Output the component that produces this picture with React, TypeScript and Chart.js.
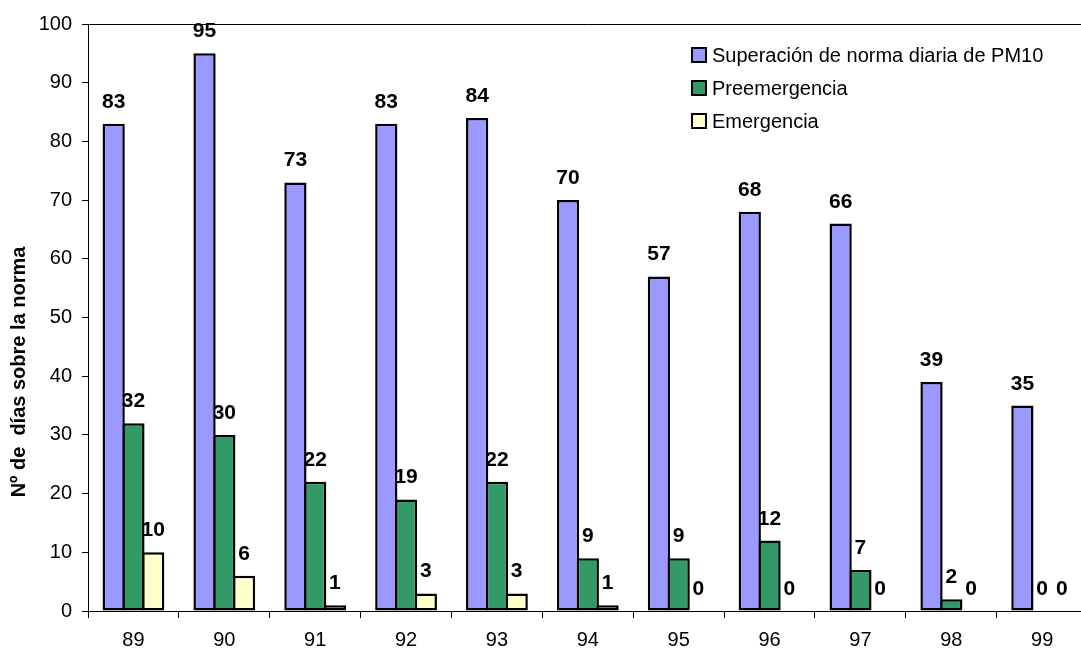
import React, { useEffect, useRef } from "react";
import { Chart, registerables } from "chart.js";

Chart.register(...registerables);

const categories = ["89", "90", "91", "92", "93", "94", "95", "96", "97", "98", "99"];
const seriesNames = ["Superación de norma diaria de PM10", "Preemergencia", "Emergencia"];
const pm10Values = [83, 95, 73, 83, 84, 70, 57, 68, 66, 39, 35];
const preemergenciaValues = [32, 30, 22, 19, 22, 9, 9, 12, 7, 2, 0];
const emergenciaValues = [10, 6, 1, 3, 3, 1, 0, 0, 0, 0, 0];
const seriesColors = ["#9999FF", "#339966", "#FFFFCC"];
const yTitle = "Nº de  días sobre la norma";

const FONT = "'Liberation Sans', Arial, Helvetica, sans-serif";

const extrasPlugin = {
  id: "extras",
  afterDatasetsDraw(chart: any) {
    const ctx = chart.ctx;
    ctx.save();
    ctx.fillStyle = "#000";
    ctx.font = `bold 21px ${FONT}`;
    ctx.textAlign = "center";
    ctx.textBaseline = "alphabetic";
    chart.data.datasets.forEach((ds: any, i: number) => {
      const meta = chart.getDatasetMeta(i);
      meta.data.forEach((bar: any, j: number) => {
        const v = ds.data[j];
        ctx.fillText(String(v), bar.x, bar.y - 16);
      });
    });
    ctx.restore();
  },
  afterDraw(chart: any) {
    const ctx = chart.ctx;
    const a = chart.chartArea;
    ctx.save();
    // frame
    ctx.strokeStyle = "#000";
    ctx.lineWidth = 1;
    ctx.beginPath();
    ctx.moveTo(a.left, a.top + 0.5);
    ctx.lineTo(a.right, a.top + 0.5);
    ctx.lineTo(a.right, a.bottom);
    ctx.stroke();
    // y title
    ctx.fillStyle = "#000";
    ctx.font = `bold 20px ${FONT}`;
    ctx.textAlign = "center";
    ctx.textBaseline = "alphabetic";
    ctx.translate(25, 372);
    ctx.rotate(-Math.PI / 2);
    ctx.fillText(yTitle, 0, 0);
    ctx.restore();

    // legend
    ctx.save();
    const rows = [55, 88, 121];
    ctx.font = `20px ${FONT}`;
    ctx.textAlign = "left";
    ctx.textBaseline = "middle";
    chart.data.datasets.forEach((ds: any, i: number) => {
      const cy = rows[i];
      ctx.fillStyle = ds.backgroundColor;
      ctx.fillRect(692, cy - 7, 14, 14);
      ctx.strokeStyle = "#000";
      ctx.lineWidth = 2;
      ctx.strokeRect(692, cy - 7, 14, 14);
      ctx.fillStyle = "#000";
      ctx.fillText(ds.label, 712, cy + 1);
    });
    ctx.restore();
  },
};

export default function App() {
  const ref = useRef<HTMLCanvasElement | null>(null);
  useEffect(() => {
    if (!ref.current) return;
    const data = [pm10Values, preemergenciaValues, emergenciaValues];
    const chart = new Chart(ref.current, {
      type: "bar",
      data: {
        labels: categories,
        datasets: data.map((d, i) => ({
          label: seriesNames[i],
          data: d,
          backgroundColor: seriesColors[i],
          borderColor: "#000",
          borderWidth: 2.5,
          borderSkipped: false,
          barPercentage: 1.126,
          categoryPercentage: 0.6526,
        })),
      },
      options: {
        responsive: false,
        animation: false,
        devicePixelRatio: 1,
        layout: { padding: { top: 24, right: 12.4, bottom: 0, left: 0 } },
        plugins: {
          legend: { display: false },
          tooltip: { enabled: false },
        },
        scales: {
          x: {
            offset: true,
            grid: {
              display: true,
              offset: true,
              drawOnChartArea: false,
              drawTicks: true,
              tickLength: 7,
              color: "#000",
            },
            border: { display: true, color: "#000", width: 1 },
            ticks: {
              color: "#000",
              font: { family: FONT, size: 20 },
              padding: 10,
              maxRotation: 0,
              autoSkip: false,
            },
            afterFit: (s: any) => {
              s.height = 38;
            },
          },
          y: {
            min: 0,
            max: 100,
            grid: {
              display: true,
              drawOnChartArea: false,
              drawTicks: true,
              tickLength: 6,
              color: "#000",
            },
            border: { display: true, color: "#000", width: 1 },
            ticks: {
              stepSize: 10,
              color: "#000",
              font: { family: FONT, size: 20 },
              padding: 10,
            },
            afterFit: (s: any) => {
              s.width = 88;
            },
          },
        },
      },
      plugins: [extrasPlugin],
    });
    return () => chart.destroy();
  }, []);

  return (
    <div
      style={{
        position: "fixed",
        left: 0,
        top: 0,
        width: 1081,
        height: 649,
        overflow: "hidden",
        background: "#fff",
      }}
    >
      <canvas ref={ref} width={1100} height={649} style={{ display: "block", width: 1100, height: 649 }} />
    </div>
  );
}
